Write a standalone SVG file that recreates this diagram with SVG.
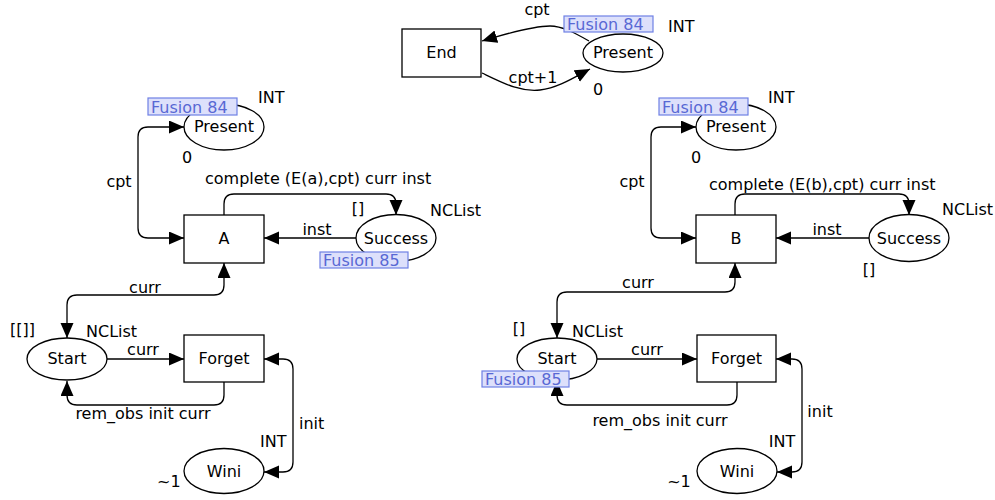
<svg xmlns="http://www.w3.org/2000/svg" width="995" height="500" viewBox="0 0 995 500">
<defs>
<marker id="ah" markerUnits="userSpaceOnUse" markerWidth="17" markerHeight="15" refX="15" refY="6.5" orient="auto-start-reverse">
<path d="M0,0 L15,6.5 L0,13 Z" fill="#000"/>
</marker>
<style>
text{font-family:"DejaVu Sans","Liberation Sans",sans-serif;font-size:16px;fill:#000}
.n{fill:#fff;stroke:#000;stroke-width:1.3}
.c{fill:none;stroke:#000;stroke-width:1.3}
.m{text-anchor:middle}
.fb{fill:#dde0fb;stroke:#6f80e4;stroke-width:1.2}
.ft{fill:#5868d4}
</style>
</defs>
<rect width="995" height="500" fill="#fff"/>

<g id="connectors">
<path class="c" d="M589,41 C575,33 562,26 550,26 C535,26 505,34 482,41" marker-end="url(#ah)"/>
<path class="c" d="M482,73 C505,84 520,92 540,90 C558,88 575,77 590,69" marker-end="url(#ah)"/>

<path class="c" d="M184,238 L148,238 Q138,238 138,228 L138,137 Q138,127 148,127 L184,127" marker-start="url(#ah)" marker-end="url(#ah)"/>
<path class="c" d="M224,215 L224,204 Q224,194 234,194 L386,194 Q396,194 396,204 L396,215" marker-end="url(#ah)"/>
<path class="c" d="M356,238 L264,238" marker-end="url(#ah)"/>
<path class="c" d="M224,263 L224,285 Q224,295 214,295 L77,295 Q67,295 67,305 L67,338" marker-start="url(#ah)" marker-end="url(#ah)"/>
<path class="c" d="M107,359 L184,359" marker-end="url(#ah)"/>
<path class="c" d="M224,382 L224,395 Q224,405 214,405 L77,405 Q67,405 67,395 L67,381" marker-end="url(#ah)"/>
<path class="c" d="M264,359 L283,359 Q293,359 293,369 L293,462 Q293,472 283,472 L264,472" marker-start="url(#ah)" marker-end="url(#ah)"/>

<path class="c" d="M696,238 L661,238 Q651,238 651,228 L651,137 Q651,127 661,127 L696,127" marker-start="url(#ah)" marker-end="url(#ah)"/>
<path class="c" d="M735,215 L735,204 Q735,194 745,194 L899,194 Q909,194 909,204 L909,215" marker-end="url(#ah)"/>
<path class="c" d="M869,238 L776,238" marker-end="url(#ah)"/>
<path class="c" d="M735,263 L735,282 Q735,292 725,292 L567,292 Q557,292 557,302 L557,338" marker-start="url(#ah)" marker-end="url(#ah)"/>
<path class="c" d="M597,359 L697,359" marker-end="url(#ah)"/>
<path class="c" d="M737,382 L737,395 Q737,405 727,405 L567,405 Q557,405 557,395 L557,381" marker-end="url(#ah)"/>
<path class="c" d="M776,359 L792,359 Q802,359 802,369 L802,462 Q802,472 792,472 L777,472" marker-start="url(#ah)" marker-end="url(#ah)"/>

<text x="537" y="15" class="m">cpt</text>
<text x="533" y="83" class="m">cpt+1</text>
<text x="119" y="187" class="m">cpt</text>
<text x="205" y="184">complete (E(a),cpt) curr inst</text>
<text x="317" y="235" class="m">inst</text>
<text x="145" y="293" class="m">curr</text>
<text x="143" y="355" class="m">curr</text>
<text x="143" y="419" class="m">rem_obs init curr</text>
<text x="299" y="429">init</text>
<text x="632" y="187" class="m">cpt</text>
<text x="709" y="190">complete (E(b),cpt) curr inst</text>
<text x="827" y="235" class="m">inst</text>
<text x="638" y="288" class="m">curr</text>
<text x="647" y="355" class="m">curr</text>
<text x="660" y="426" class="m">rem_obs init curr</text>
<text x="820" y="417" class="m">init</text>
</g>

<g id="End">
<rect class="n" x="402" y="29" width="79" height="48"/>
<text x="441.5" y="58" class="m">End</text>
</g>
<g id="PresentTop">
<ellipse class="n" cx="623" cy="53" rx="40" ry="19"/>
<text x="623" y="58" class="m">Present</text>
<rect class="fb" x="564" y="16" width="89" height="16"/>
<text x="567" y="30" class="ft">Fusion 84</text>
<text x="668" y="32">INT</text>
<text x="598" y="95" class="m">0</text>
</g>

<g id="PresentA">
<ellipse class="n" cx="224" cy="127" rx="40" ry="23"/>
<text x="224" y="132" class="m">Present</text>
<rect class="fb" x="148" y="98" width="89" height="17"/>
<text x="151" y="113" class="ft">Fusion 84</text>
<text x="258" y="103">INT</text>
<text x="187" y="163" class="m">0</text>
</g>
<g id="A">
<rect class="n" x="184" y="215" width="80" height="48"/>
<text x="224" y="244" class="m">A</text>
</g>
<g id="SuccessA">
<ellipse class="n" cx="396" cy="238" rx="40" ry="23.5"/>
<text x="396" y="244" class="m">Success</text>
<rect class="fb" x="320" y="252" width="88" height="16"/>
<text x="323" y="266" class="ft">Fusion 85</text>
<text x="358" y="214" class="m">[]</text>
<text x="430" y="216">NCList</text>
</g>
<g id="StartA">
<ellipse class="n" cx="67" cy="359" rx="40" ry="21"/>
<text x="67" y="364" class="m">Start</text>
<text x="10" y="335">[[]]</text>
<text x="86" y="337">NCList</text>
</g>
<g id="ForgetA">
<rect class="n" x="184" y="335" width="80" height="47"/>
<text x="224" y="364" class="m">Forget</text>
</g>
<g id="WiniA">
<ellipse class="n" cx="224" cy="471" rx="40" ry="22.5"/>
<text x="224" y="477" class="m">Wini</text>
<text x="260" y="447">INT</text>
<text x="157" y="487">~1</text>
</g>

<g id="PresentB">
<ellipse class="n" cx="736" cy="127" rx="40" ry="23"/>
<text x="736" y="132" class="m">Present</text>
<rect class="fb" x="659" y="98" width="89" height="17"/>
<text x="662" y="113" class="ft">Fusion 84</text>
<text x="768" y="103">INT</text>
<text x="696" y="163" class="m">0</text>
</g>
<g id="B">
<rect class="n" x="696" y="215" width="80" height="48"/>
<text x="736" y="244" class="m">B</text>
</g>
<g id="SuccessB">
<ellipse class="n" cx="909" cy="238" rx="40" ry="23.5"/>
<text x="909" y="244" class="m">Success</text>
<text x="869" y="275" class="m">[]</text>
<text x="942" y="215">NCList</text>
</g>
<g id="StartB">
<ellipse class="n" cx="557" cy="359" rx="40" ry="21"/>
<text x="557" y="364" class="m">Start</text>
<rect class="fb" x="482" y="371" width="87" height="16"/>
<text x="485" y="385" class="ft">Fusion 85</text>
<text x="519" y="334" class="m">[]</text>
<text x="572" y="337">NCList</text>
</g>
<g id="ForgetB">
<rect class="n" x="697" y="335" width="79" height="47"/>
<text x="736.5" y="364" class="m">Forget</text>
</g>
<g id="WiniB">
<ellipse class="n" cx="737" cy="471" rx="40" ry="22.5"/>
<text x="737" y="477" class="m">Wini</text>
<text x="782" y="447" class="m">INT</text>
<text x="679" y="487" class="m">~1</text>
</g>
</svg>
